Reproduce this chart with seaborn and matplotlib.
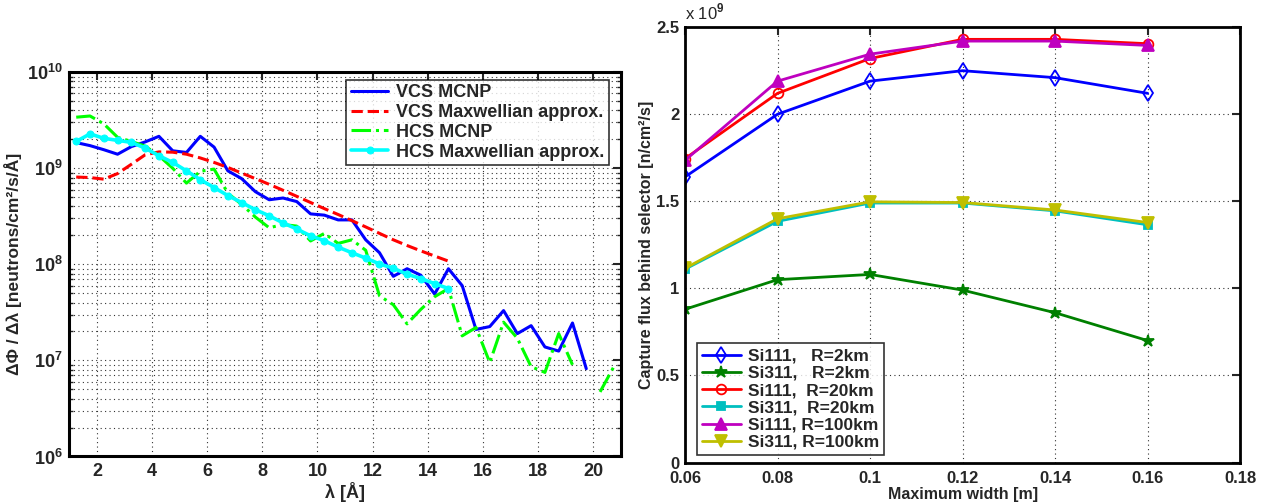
import numpy as np
import pandas as pd
import seaborn as sns
import matplotlib
matplotlib.use("Agg")
import matplotlib.pyplot as plt
from matplotlib.ticker import FixedLocator, FuncFormatter, LogLocator, NullFormatter

# ---- left panel: spectra vs wavelength ----
lam_vcs = [1.25, 1.75, 2.25, 2.75, 3.25, 3.75, 4.25, 4.75, 5.25, 5.75,
           6.25, 6.75, 7.25, 7.75, 8.25, 8.75, 9.25, 9.75, 10.25, 10.75,
           11.25, 11.75, 12.25, 12.75, 13.25, 13.75, 14.25, 14.75, 15.25, 15.75,
           16.25, 16.75, 17.25, 17.75, 18.25, 18.75, 19.25, 19.75]
vcs_mcnp = [1.85e9, 1.72e9, 1.56e9, 1.40e9, 1.68e9, 1.88e9, 2.15e9, 1.52e9, 1.46e9, 2.15e9,
            1.66e9, 9.4e8, 7.8e8, 5.7e8, 4.7e8, 4.9e8, 4.5e8, 3.35e8, 3.25e8, 2.9e8,
            2.9e8, 1.8e8, 1.32e8, 7.5e7, 9.0e7, 7.7e7, 4.9e7, 9.0e7, 6.0e7, 2.1e7,
            2.25e7, 3.3e7, 1.9e7, 2.3e7, 1.38e7, 1.25e7, 2.45e7, 8.2e6]

lam_max = [1.25, 1.75, 2.25, 2.75, 3.25, 3.75, 4.25, 4.75, 5.25, 5.75,
           6.25, 6.75, 7.25, 7.75, 8.25, 8.75, 9.25, 9.75, 10.25, 10.75,
           11.25, 11.75, 12.25, 12.75, 13.25, 13.75, 14.25, 14.75]
vcs_maxw = [8.1e8, 8.0e8, 7.7e8, 8.8e8, 1.1e9, 1.38e9, 1.48e9, 1.47e9, 1.4e9, 1.28e9,
            1.15e9, 1.02e9, 8.9e8, 7.8e8, 6.8e8, 5.9e8, 5.1e8, 4.4e8, 3.8e8, 3.3e8,
            2.85e8, 2.45e8, 2.1e8, 1.8e8, 1.57e8, 1.38e8, 1.22e8, 1.08e8]
hcs_maxw = [1.9e9, 2.28e9, 2.05e9, 1.95e9, 1.86e9, 1.62e9, 1.35e9, 1.15e9, 9.4e8, 7.6e8,
            6.3e8, 5.2e8, 4.4e8, 3.7e8, 3.2e8, 2.7e8, 2.33e8, 1.98e8, 1.76e8, 1.51e8,
            1.32e8, 1.16e8, 1.01e8, 9.1e7, 7.9e7, 7.1e7, 6.3e7, 5.6e7]

lam_hcs = [1.25, 1.75, 2.25, 2.75, 3.25, 3.75, 4.25, 4.75, 5.25, 5.75,
           6.25, 6.75, 7.25, 7.75, 8.25, 8.75, 9.25, 9.75, 10.25, 10.75,
           11.25, 11.75, 12.25, 12.75, 13.25, 13.75, 14.25, 14.75, 15.25, 15.75,
           16.25, 16.75, 17.25, 17.75, 18.25, 18.75, 19.25, 19.75, 20.25, 20.75]
hcs_mcnp = [3.4e9, 3.5e9, 2.9e9, 2.1e9, 1.9e9, 1.7e9, 1.35e9, 1.0e9, 7.0e8, 9.3e8,
            9.8e8, 5.5e8, 4.2e8, 3.1e8, 2.4e8, 2.6e8, 2.5e8, 1.75e8, 2.1e8, 1.65e8,
            1.8e8, 1.4e8, 4.7e7, 3.8e7, 2.4e7, 3.4e7, 4.6e7, 5.6e7, 1.8e7, 2.2e7,
            9.5e6, 2.5e7, 1.7e7, 8.6e6, 7.5e6, 1.9e7, 9.0e6, np.nan, 4.7e6, 8.6e6]

# ---- right panel: capture flux vs maximum width ----
width = [0.06, 0.08, 0.10, 0.12, 0.14, 0.16]
si111_2km = [1.64e9, 2.00e9, 2.19e9, 2.25e9, 2.21e9, 2.12e9]
si311_2km = [0.88e9, 1.05e9, 1.08e9, 0.99e9, 0.86e9, 0.70e9]
si111_20km = [1.745e9, 2.12e9, 2.32e9, 2.43e9, 2.43e9, 2.405e9]
si311_20km = [1.11e9, 1.385e9, 1.49e9, 1.49e9, 1.445e9, 1.365e9]
si111_100km = [1.735e9, 2.19e9, 2.345e9, 2.42e9, 2.42e9, 2.395e9]
si311_100km = [1.115e9, 1.40e9, 1.497e9, 1.493e9, 1.45e9, 1.378e9]

right_labels = ["Si111,   R=2km", "Si311,   R=2km", "Si111,  R=20km",
                "Si311,  R=20km", "Si111, R=100km", "Si311, R=100km"]

sns.set_style("white")
plt.rcParams['font.family'] = ['Liberation Sans', 'DejaVu Sans']
plt.rcParams['font.weight'] = 'bold'
plt.rcParams['axes.labelweight'] = 'bold'
plt.rcParams['mathtext.fontset'] = 'custom'
plt.rcParams['mathtext.rm'] = 'Liberation Sans'
plt.rcParams['mathtext.bf'] = 'Liberation Sans:bold'

fig = plt.figure(figsize=(12.72, 5.03), dpi=100)
ax1 = fig.add_axes([0.0545, 0.0925, 0.4335, 0.764])
ax2 = fig.add_axes([0.5385, 0.0805, 0.4365, 0.8655])

grid_kw = dict(linestyle=(0, (1, 3)), color='0.2', lw=0.8)

# left
df_vcs = pd.DataFrame({'lam': lam_vcs, 'flux': vcs_mcnp})
df_max = pd.DataFrame({'lam': lam_max, 'vcs': vcs_maxw, 'hcs': hcs_maxw})
df_hcs = pd.DataFrame({'lam': lam_hcs, 'flux': hcs_mcnp})

sns.lineplot(data=df_vcs, x='lam', y='flux', ax=ax1, color='#0000FF', lw=2.2,
             label='VCS MCNP', sort=False)
sns.lineplot(data=df_max, x='lam', y='vcs', ax=ax1, color='#FF0000', lw=2.2,
             linestyle='--', label='VCS Maxwellian approx.', sort=False)
ax1.plot(df_hcs['lam'], df_hcs['flux'], color='#00FF00', lw=2.2, linestyle='-.',
         label='HCS MCNP')
sns.lineplot(data=df_max, x='lam', y='hcs', ax=ax1, color='#00FFFF', lw=2.6,
             marker='o', markersize=5, markeredgecolor='#00FFFF',
             label='HCS Maxwellian approx.', sort=False)

ax1.set_yscale('log')
ax1.set_xlim(1, 21)
ax1.set_ylim(1e6, 1e10)
ax1.xaxis.set_major_locator(FixedLocator([2, 4, 6, 8, 10, 12, 14, 16, 18, 20]))
ax1.yaxis.set_major_locator(FixedLocator([1e6, 1e7, 1e8, 1e9, 1e10]))
ax1.yaxis.set_major_formatter(FuncFormatter(
    lambda v, p: r'$\mathbf{10^{%d}}$' % round(np.log10(v))))
ax1.yaxis.set_minor_locator(LogLocator(base=10, subs=np.arange(2, 10)))
ax1.yaxis.set_minor_formatter(NullFormatter())
ax1.grid(True, which='major', axis='both', **grid_kw)
ax1.grid(True, which='minor', axis='y', **grid_kw)
ax1.set_xlabel('λ [Å]', fontsize=13, labelpad=1)
ax1.set_ylabel('ΔΦ / Δλ [neutrons/cm²/s/Å]', fontsize=12.5, labelpad=3)
ax1.tick_params(axis='both', which='major', direction='in', length=6, width=1.5,
                top=True, right=True, labelsize=13, pad=5)
ax1.tick_params(axis='y', which='minor', direction='in', length=3, width=1,
                left=True, right=True)
for s in ax1.spines.values():
    s.set_linewidth(2.2)
    s.set_color('black')
leg1 = ax1.legend(loc='upper right', bbox_to_anchor=(0.978, 0.98), fontsize=13,
                  frameon=True, fancybox=False, handlelength=2.1, borderpad=0.25,
                  labelspacing=0.15, handletextpad=0.4, borderaxespad=0)
leg1.get_frame().set_edgecolor('black')
leg1.get_frame().set_linewidth(1.2)

# right
right_series = [si111_2km, si311_2km, si111_20km, si311_20km, si111_100km, si311_100km]
right_colors = ['#0000FF', '#008000', '#FF0000', '#00BFBF', '#BF00BF', '#BFBF00']
right_markers = ['d', '*', 'o', 's', '^', 'v']
right_fill = ['none', '#008000', 'none', '#00BFBF', '#BF00BF', '#BFBF00']
right_msize = [8, 9, 7, 6, 8, 8]
for vals, lab, c, m, fc, ms in zip(right_series, right_labels, right_colors,
                                   right_markers, right_fill, right_msize):
    sns.lineplot(x=width, y=vals, ax=ax2, color=c, lw=2.0, marker=m, markersize=ms,
                 markerfacecolor=fc, markeredgecolor=c, markeredgewidth=1.3,
                 label=lab)

ax2.set_xlim(0.06, 0.18)
ax2.set_ylim(0, 2.5e9)
ax2.xaxis.set_major_locator(FixedLocator([0.06, 0.08, 0.10, 0.12, 0.14, 0.16, 0.18]))
ax2.xaxis.set_major_formatter(FuncFormatter(lambda v, p: '%g' % round(v, 2)))
ax2.yaxis.set_major_locator(FixedLocator([0, 0.5e9, 1e9, 1.5e9, 2e9, 2.5e9]))
ax2.yaxis.set_major_formatter(FuncFormatter(lambda v, p: '%g' % (v / 1e9)))
ax2.grid(True, which='major', **grid_kw)
ax2.tick_params(axis='both', which='major', direction='in', length=6, width=1.5,
                top=True, right=True, labelsize=12, pad=4)
ax2.tick_params(axis='x', pad=6)
ax2.set_xlabel('Maximum width [m]', fontsize=11.5, labelpad=1)
ax2.set_ylabel('Capture flux behind selector [n/cm²/s]', fontsize=11.5, labelpad=2)
ax2.text(0.0, 1.012, r'x 10$^{9}$', transform=ax2.transAxes, fontsize=12,
         fontweight='normal', ha='left', va='bottom')
for s in ax2.spines.values():
    s.set_linewidth(2.0)
    s.set_color('black')
leg2 = ax2.legend(loc='lower left', bbox_to_anchor=(0.022, 0.017), fontsize=12.5,
                  frameon=True, fancybox=False, handlelength=2.2, borderpad=0.3,
                  labelspacing=0.12, handletextpad=0.4, borderaxespad=0)
leg2.get_frame().set_edgecolor('black')
leg2.get_frame().set_linewidth(1.2)

fig.savefig('out.png', dpi=100, facecolor='white')
